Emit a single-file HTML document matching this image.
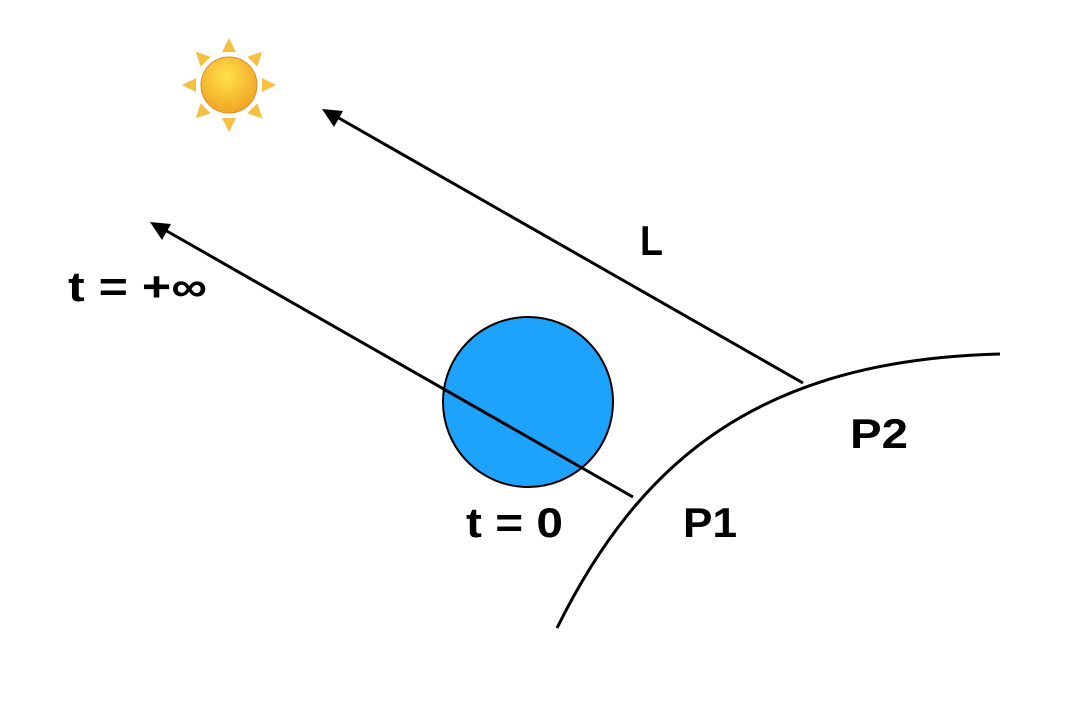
<!DOCTYPE html>
<html><head><style>body{margin:0;background:#fff}svg{display:block}</style></head><body>
<svg width="1092" height="708" viewBox="0 0 1092 708" xmlns="http://www.w3.org/2000/svg">
<defs>
<radialGradient id="sg" cx="0.45" cy="0.35" r="0.7"><stop offset="0" stop-color="#ffe14d"/><stop offset="1" stop-color="#f0a020"/></radialGradient>
</defs>
<g transform="translate(229,85)">
<circle r="28" fill="url(#sg)" stroke="#e08a2a" stroke-width="1"/>
<g fill="#f7c040">
<polygon points="-7,-33 7,-33 0,-47"/>
<polygon points="-7,33 7,33 0,47"/>
<polygon points="-33,-7 -33,7 -47,0"/>
<polygon points="33,-7 33,7 47,0"/>
<polygon points="-7,-33 7,-33 0,-47" transform="rotate(45)"/>
<polygon points="-7,-33 7,-33 0,-47" transform="rotate(135)"/>
<polygon points="-7,-33 7,-33 0,-47" transform="rotate(225)"/>
<polygon points="-7,-33 7,-33 0,-47" transform="rotate(315)"/>
</g></g>
<circle cx="528" cy="402" r="85" fill="#1ea3fc" stroke="#000" stroke-width="2"/>
<path d="M557,628 C640,460 760,360 1000,354" fill="none" stroke="#000" stroke-width="3"/>
<line x1="803" y1="383" x2="330" y2="113" stroke="#000" stroke-width="3"/>
<polygon points="322,109 343,111 334,127" fill="#000"/>
<line x1="633" y1="497" x2="158" y2="226" stroke="#000" stroke-width="3"/>
<polygon points="150,222 171,224 162,240" fill="#000"/>
<g font-family="Liberation Sans, sans-serif" font-weight="bold" font-size="42" fill="#000">
<text x="68" y="301" textLength="139" lengthAdjust="spacingAndGlyphs">t = +∞</text>
<text x="640" y="255" textLength="23" lengthAdjust="spacingAndGlyphs">L</text>
<text x="850" y="448" textLength="58" lengthAdjust="spacingAndGlyphs">P2</text>
<text x="683" y="537" textLength="54" lengthAdjust="spacingAndGlyphs">P1</text>
<text x="466" y="537" textLength="97" lengthAdjust="spacingAndGlyphs">t = 0</text>
</g>
</svg>
</body></html>
